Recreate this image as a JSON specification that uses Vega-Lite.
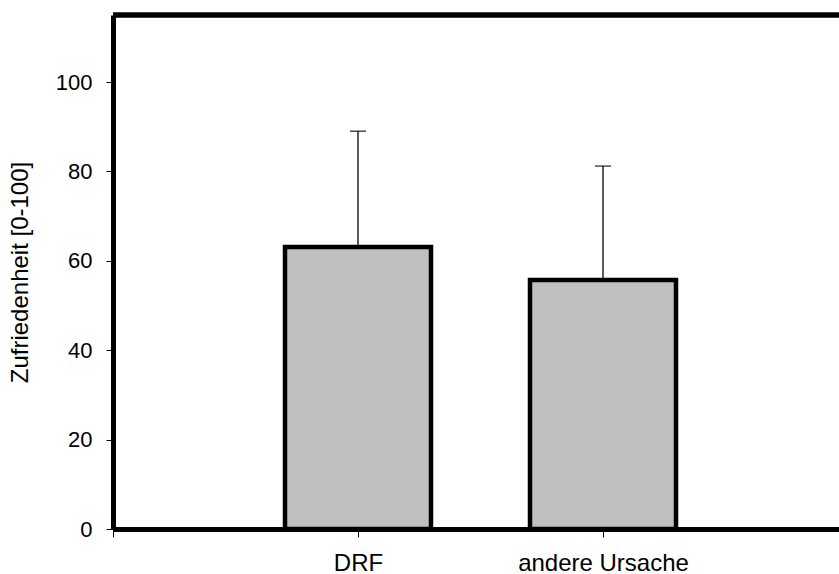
{
  "$schema": "https://vega.github.io/schema/vega-lite/v6.json",
  "autosize": {"type": "none"},
  "width": 726,
  "height": 514,
  "padding": {"left": 113, "top": 15, "right": 0, "bottom": 45},
  "background": "white",
  "config": {
    "view": {"stroke": null},
    "font": "Liberation Sans"
  },
  "data": {
    "values": [
      {"gruppe": "DRF", "mittel": 63.1, "oben": 89.0},
      {"gruppe": "andere Ursache", "mittel": 55.7, "oben": 81.2}
    ]
  },
  "encoding": {
    "x": {
      "field": "gruppe",
      "type": "nominal",
      "sort": null,
      "scale": {"type": "point", "domain": ["start", "DRF", "andere Ursache", "ende"], "range": [0, 735], "padding": 0},
      "axis": {
        "title": null,
        "values": ["start", "DRF", "andere Ursache"],
        "labelExpr": "datum.value === 'start' ? '' : datum.label",
        "labelAngle": 0,
        "labelFontSize": 24,
        "labelColor": "black",
        "labelPadding": 14,
        "tickSize": 8,
        "tickWidth": 1,
        "tickColor": "black",
        "domainColor": "black",
        "domainWidth": 5,
        "grid": false
      }
    }
  },
  "layer": [
    {
      "mark": {"type": "rule", "color": "black", "strokeWidth": 1.3},
      "encoding": {
        "y": {"field": "mittel", "type": "quantitative"},
        "y2": {"field": "oben"}
      }
    },
    {
      "mark": {"type": "tick", "color": "black", "size": 16, "thickness": 1.5, "orient": "horizontal"},
      "encoding": {
        "y": {"field": "oben", "type": "quantitative"}
      }
    },
    {
      "mark": {"type": "bar", "width": 146, "fill": "#c0c0c0", "stroke": "black", "strokeWidth": 4.5, "strokeJoin": "miter"},
      "encoding": {
        "y": {
          "field": "mittel",
          "type": "quantitative",
          "scale": {"domain": [0, 115], "nice": false, "zero": true},
          "axis": {
            "title": "Zufriedenheit [0-100]",
            "titleFontSize": 24,
            "titleFontWeight": "normal",
            "titleColor": "black",
            "titlePadding": 23,
            "values": [0, 20, 40, 60, 80, 100],
            "labelFontSize": 22,
            "labelColor": "black",
            "labelPadding": 14,
            "tickSize": 7,
            "tickWidth": 1,
            "tickColor": "black",
            "domainColor": "black",
            "domainWidth": 5,
            "grid": false
          }
        }
      }
    },
    {
      "mark": {"type": "rule", "color": "black", "strokeWidth": 5},
      "encoding": {
        "y": {"datum": 115, "type": "quantitative"},
        "x": {"value": 0},
        "x2": {"value": 726}
      }
    }
  ]
}
